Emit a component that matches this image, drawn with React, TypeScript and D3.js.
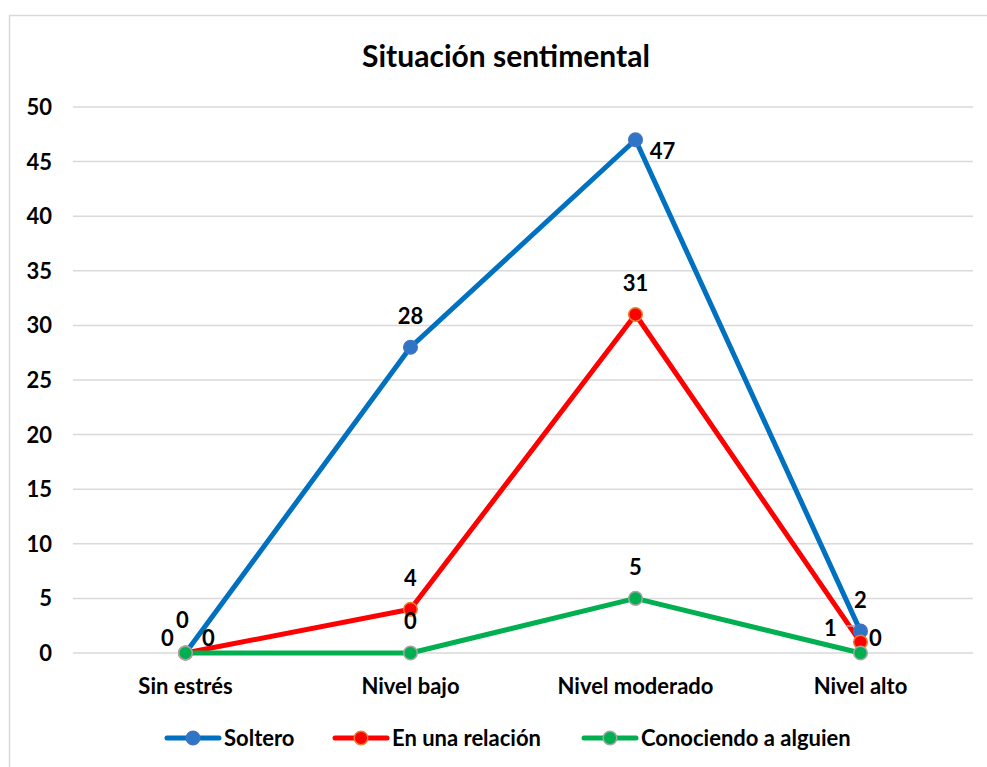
import React from 'react';
import * as d3 from 'd3';

const categories = ['Sin estrés', 'Nivel bajo', 'Nivel moderado', 'Nivel alto'];
const soltero = [0, 28, 47, 2];
const relacion = [0, 4, 31, 1];
const conociendo = [0, 0, 5, 0];
const yTicks = [0, 5, 10, 15, 20, 25, 30, 35, 40, 45, 50];

const series = [
  { name: 'Soltero', values: soltero, color: '#0070C0', fill: '#2E75C6', stroke: '#4472C4' },
  { name: 'En una relación', values: relacion, color: '#FF0000', fill: '#FF0000', stroke: '#ED7D31' },
  { name: 'Conociendo a alguien', values: conociendo, color: '#00B050', fill: '#00B050', stroke: '#A5A5A5' },
];

// label offsets per series per point: [dx, dy]
const labelPos: [number, number][][] = [
  [[-3, -33], [0, -31], [27, 11], [0, -31]],
  [[-18, -15], [0, -31], [0, -31], [-30, -14]],
  [[23, -15], [0, -32], [0, -31], [15, -15]],
];

const W = 987;
const H = 767;
const margin = { top: 107, right: 14, bottom: 114, left: 73 };
const font = 'Lato, "Open Sans", sans-serif';

export default function App() {
  const x = d3.scaleBand().domain(categories).range([margin.left, W - margin.right]);
  const y = d3.scaleLinear().domain([0, 50]).range([H - margin.bottom, margin.top]);
  const cx = (c: string) => (x(c) as number) + x.bandwidth() / 2;
  const line = d3.line<number>().x((_, i) => cx(categories[i])).y(d => y(d));

  const legendX = [165, 333, 582];
  const px = cx(categories[3]);
  const py = y(relacion[3]);

  return (
    <svg width={W} height={H} style={{ position: 'absolute', left: 0, top: 0, background: '#fff' }} fontFamily={font}>
      <rect x={9.5} y={15.5} width={W} height={H} fill="#fff" stroke="#D9D9D9" strokeWidth={1.5} />
      <text x={506} y={67} textAnchor="middle" fontSize={30} fontWeight="bold" fill="#000">
        Situación sentimental
      </text>

      {yTicks.map(t => (
        <g key={t}>
          <line x1={margin.left} x2={W - margin.right} y1={y(t)} y2={y(t)} stroke="#D9D9D9" strokeWidth={1.5} />
          <text x={52} y={y(t)} dy="0.36em" textAnchor="end" fontSize={22} fontWeight="bold">{t}</text>
        </g>
      ))}

      {categories.map(c => (
        <text key={c} x={cx(c)} y={686} dy="0.36em" textAnchor="middle" fontSize={22} fontWeight="bold">{c}</text>
      ))}

      {series.map(s => (
        <path key={s.name} d={line(s.values) || ''} fill="none" stroke={s.color} strokeWidth={5} strokeLinejoin="round" />
      ))}

      {/* leader line for the "1" label */}
      <polyline
        points={`${px - 14},${py - 16} ${px - 3},${py - 16} ${px - 3},${py - 8}`}
        fill="none" stroke="#A5A5A5" strokeWidth={1.5}
      />

      {series.map(s => s.values.map((v, i) => (
        <circle key={s.name + i} cx={cx(categories[i])} cy={y(v)} r={6.8} fill={s.fill} stroke={s.stroke} strokeWidth={1.5} />
      )))}

      {series.map((s, si) => s.values.map((v, i) => {
        const [dx, dy] = labelPos[si][i];
        return (
          <text key={'l' + s.name + i} x={cx(categories[i]) + dx} y={y(v) + dy} dy="0.36em"
            textAnchor="middle" fontSize={22} fontWeight="bold">{v}</text>
        );
      }))}

      {series.map((s, i) => (
        <g key={'lg' + s.name} transform={`translate(${legendX[i]},738)`}>
          <line x1={2} x2={54} y1={0} y2={0} stroke={s.color} strokeWidth={5} strokeLinecap="round" />
          <circle cx={28} cy={0} r={6.8} fill={s.fill} stroke={s.stroke} strokeWidth={1.5} />
          <text x={59} y={0} dy="0.36em" fontSize={22} fontWeight="bold">{s.name}</text>
        </g>
      ))}
    </svg>
  );
}
